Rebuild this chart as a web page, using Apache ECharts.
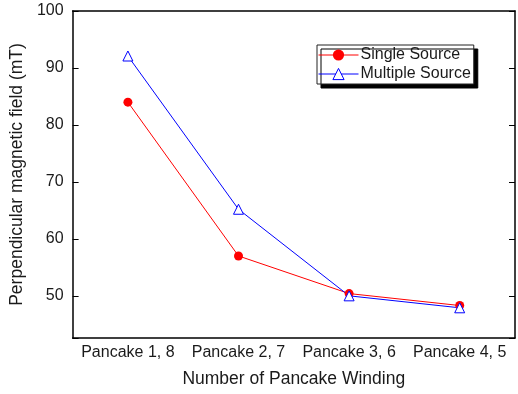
<!DOCTYPE html>
<html>
<head>
<meta charset="utf-8">
<script src="https://cdn.jsdelivr.net/npm/echarts@6/dist/echarts.min.js"></script>
<style>
  html, body { margin: 0; padding: 0; background: #fff; }
  #chart { width: 518px; height: 394px; }
</style>
</head>
<body>
<div id="chart"></div>
<script>
var categories = ['Pancake 1, 8', 'Pancake 2, 7', 'Pancake 3, 6', 'Pancake 4, 5'];
var singleSource = [84.0, 57.0, 50.4, 48.3];
var multipleSource = [92.1, 65.2, 50.0, 47.9];
var yMin = 42.6;
var yMax = 100;

var textColor = '#1a1a1a';
var font = 'Arial, "Liberation Sans", sans-serif';

var myChart = echarts.init(document.getElementById('chart'));
var option = {
    animation: false,
    textStyle: {
        fontFamily: font,
        color: textColor
    },
    grid: {
        left: 72,
        right: 3,
        top: 11,
        bottom: 56
    },
    legend: {
        data: ['Single Source', 'Multiple Source'],
        orient: 'vertical',
        left: 317,
        top: 45,
        padding: [2, 3, 2, 1],
        itemGap: 3,
        itemWidth: 40,
        itemHeight: 14,
        backgroundColor: '#fff',
        borderColor: '#222',
        borderWidth: 1,
        borderRadius: 0,
        shadowColor: '#000',
        shadowBlur: 0,
        shadowOffsetX: 4,
        shadowOffsetY: 4,
        lineStyle: { width: 1 },
        itemStyle: { borderWidth: 1 },
        textStyle: {
            color: textColor,
            fontSize: 16,
            fontFamily: font,
            padding: [0, 0, 0, -3]
        }
    },
    xAxis: [{
        type: 'category',
        data: categories,
        name: 'Number of Pancake Winding',
        nameLocation: 'middle',
        nameGap: 32,
        nameTextStyle: { fontSize: 17.5, color: textColor },
        axisLine: { lineStyle: { color: '#000', width: 1.5 } },
        axisTick: { inside: true, alignWithLabel: true, length: 6, lineStyle: { color: '#000' } },
        axisLabel: { fontSize: 16, color: textColor, margin: 7, interval: 0 },
        splitLine: { show: false }
    }, {
        type: 'category',
        data: categories,
        position: 'top',
        axisLine: { lineStyle: { color: '#000', width: 1.5 } },
        axisTick: { inside: true, alignWithLabel: true, length: 6, interval: 0, lineStyle: { color: '#000' } },
        axisLabel: { show: false },
        splitLine: { show: false }
    }],
    yAxis: [{
        type: 'value',
        min: yMin,
        max: yMax,
        name: 'Perpendicular magnetic field (mT)',
        nameLocation: 'middle',
        nameGap: 42,
        nameTextStyle: { fontSize: 17.5, color: textColor },
        axisLine: { show: true, lineStyle: { color: '#000', width: 1.5 } },
        axisTick: { show: true, inside: true, length: 6, lineStyle: { color: '#000' } },
        axisLabel: {
            fontSize: 16,
            color: textColor,
            margin: 9,
            formatter: function (v) { return v % 10 === 0 ? v : ''; }
        },
        splitLine: { show: false }
    }, {
        type: 'value',
        min: yMin,
        max: yMax,
        position: 'right',
        axisLine: { show: true, lineStyle: { color: '#000', width: 1.5 } },
        axisTick: { show: true, inside: true, length: 6, lineStyle: { color: '#000' } },
        axisLabel: { show: false },
        splitLine: { show: false }
    }],
    series: [{
        name: 'Single Source',
        type: 'line',
        data: singleSource,
        symbol: 'circle',
        symbolSize: 9,
        color: '#ff0000',
        lineStyle: { color: '#ff0000', width: 1 },
        itemStyle: { color: '#ff0000' }
    }, {
        name: 'Multiple Source',
        type: 'line',
        data: multipleSource,
        symbol: 'triangle',
        symbolSize: 10,
        color: '#0000ff',
        lineStyle: { color: '#0000ff', width: 1 },
        itemStyle: { color: '#fff', borderColor: '#0000ff', borderWidth: 1 }
    }]
};
myChart.setOption(option);
</script>
</body>
</html>
